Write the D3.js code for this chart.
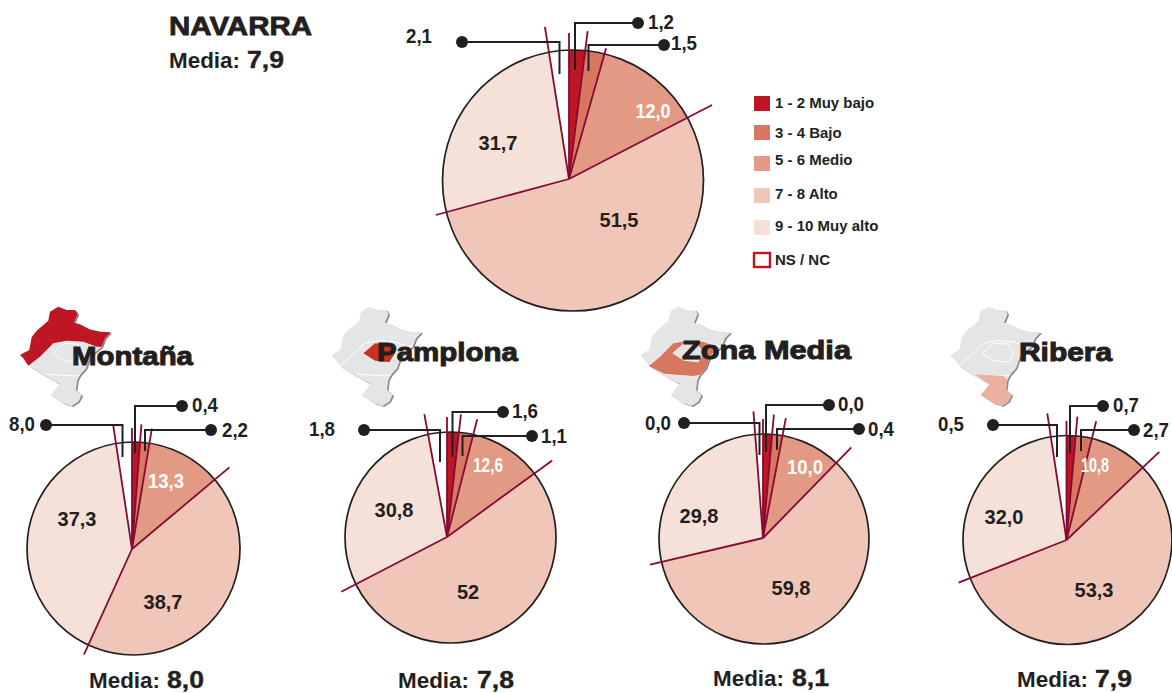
<!DOCTYPE html>
<html><head><meta charset="utf-8">
<script src="https://cdnjs.cloudflare.com/ajax/libs/d3/7.8.5/d3.min.js"></script>
<style>html,body{margin:0;padding:0;background:#fff}svg{display:block}
text{font-family:"Liberation Sans",Arial,sans-serif;font-weight:700;fill:#231f20}</style>
</head><body><svg id="c" width="1172" height="693"></svg>
<script>
// categories
const categories = ["1 - 2 Muy bajo","3 - 4 Bajo","5 - 6 Medio","7 - 8 Alto","9 - 10 Muy alto","NS / NC"];
// printed labels, in category order
const navarraLabels = ["1,2","1,5","12,0","51,5","31,7","2,1"];
const montanaLabels = ["0,4","2,2","13,3","38,7","37,3","8,0"];
const pamplonaLabels = ["1,6","1,1","12,6","52","30,8","1,8"];
const zonaLabels = ["0,0","0,4","10,0","59,8","29,8","0,0"];
const riberaLabels = ["0,7","2,7","10,8","53,3","32,0","0,5"];
// slice shares as drawn in the picture (%)
const navarraShares = [2.0,2.4,13.0,53.4,26.7,2.5];
const montanaShares = [1.2,1.4,11.3,42.9,40.8,2.4];
const pamplonaShares = [1.8,2.2,11.0,52.4,29.7,2.9];
const zonaShares = [1.4,1.6,9.3,59.0,27.5,1.2];
const riberaShares = [1.4,2.5,9.0,56.1,28.6,2.4];
// colours
const colors = ["#be1622","#d8775f","#e29a84","#efc6b8","#f5e1d7","#ffffff"];
const rayColor = "#860a33", inkColor = "#231f20";

// layout (separate from data): hub = where rays meet, circle = disc centre
const pies = [
 {name:"NAVARRA",labels:navarraLabels,shares:navarraShares,cx:569,cy:179,ox:573,oy:180.5,r:130.5,
  rays:[149,136,161,138,154,146],
  lead:[[638,23,575,70,648,22],[664,45,588.5,71,671,43],[462,42,559.5,74,406,36]],
  inner:[[653,111],[619,220],[498,143]],whiteW:35},
 {name:"Montaña",labels:montanaLabels,shares:montanaShares,cx:132,cy:549,ox:133.5,oy:548.5,r:106.5,
  rays:[125,122,127,116,125.4,121],
  lead:[[182,406,135,453,192,405],[211,430,145,451,222,430],[46,425,122.5,457,9,424]],
  inner:[[166,481],[163,602],[77,519]],whiteW:36,
  region:0,mapX:0,title:[72,365,121],mean:"8,0",mx:89,vx:167,my:688},
 {name:"Pamplona",labels:pamplonaLabels,shares:pamplonaShares,cx:447,cy:537,ox:450.5,oy:537.5,r:105.5,
  rays:[123.5,121.5,130,119,125,120],
  lead:[[503,412,452.5,457,512,411],[532,436,462.5,456,541,436],[364,430,440,462,309,429]],
  inner:[[488,465],[468,592],[394,510]],whiteW:30,
  region:1,mapX:311,title:[377,361,141],mean:"7,8",mx:398,vx:477,my:688},
 {name:"Zona Media",labels:zonaLabels,shares:zonaShares,cx:763,cy:538,ox:764,oy:539,r:105,
  rays:[124,122,126.5,116,127,119],
  lead:[[829,405,766,452,838,404],[859,429,777,450,868,429],[684,423,759.5,455,645,423]],
  inner:[[805,467],[791,588],[699,516]],whiteW:36,
  region:2,mapX:620,title:[682,359,169],mean:"8,1",mx:713,vx:792,my:686},
 {name:"Ribera",labels:riberaLabels,shares:riberaShares,cx:1066.5,cy:540,ox:1067.5,oy:540,r:104.5,
  rays:[124,122.4,128,116,128,119],
  lead:[[1103,406,1070,453,1113,405],[1134,430,1081,451,1143,430],[993,425,1057,457,938,424]],
  inner:[[1095,465],[1094,590],[1004,517]],whiteW:28,
  region:3,mapX:930,title:[1019,361,93],mean:"7,9",mx:1017,vx:1095,my:687}
];

const svg = d3.select("#c");
const pie = d3.pie().sort(null).value(d=>d);

// locator map geometry
const outline = [[175,20],[200,30],[225,30],[233,42],[222,68],[240,73],[268,88],[300,95],[332,97],[315,115],[305,140],[270,170],[258,205],[240,225],[232,240],[228,270],[245,285],[235,305],[215,318],[190,310],[152,285],[165,270],[180,250],[168,247],[130,225],[90,200],[70,175],[60,165],[88,150],[95,112],[110,92],[145,62],[150,35]];
const northEdge = [[85,197],[120,170],[160,130],[200,122],[250,125],[290,140],[305,140]];
const basin = [[157,160],[192,130],[232,132],[252,160],[235,187],[192,182]];
const south = [[135,222],[220,228],[232,240],[228,270],[245,285],[235,305],[215,318],[190,310],[152,285],[165,270],[180,250],[168,247]];
const montana = northEdge.concat(outline.slice(0,10).reverse(), outline.slice(26).reverse());
const media = [[86,198],[120,170],[160,130],[200,122],[250,125],[290,140],[270,170],[258,205],[240,225],[220,228],[135,222]];
const regionShapes = [
 {rings:[montana],fill:"#be1622"},
 {rings:[basin],fill:"#c8301f"},
 {rings:[media,basin],fill:"#d8775f"},
 {rings:[south],fill:"#eab19e"}
];
const mapLine = d3.line().curve(d3.curveLinearClosed).x(d=>d[0]/3).y(d=>d[1]/3+300);
const openLine = d3.line().curve(d3.curveLinear).x(d=>d[0]/3).y(d=>d[1]/3+300);

pies.forEach((p,pi)=>{
  const g = svg.append("g");
  if(p.region!==undefined){
    const m = g.append("g").attr("transform",`translate(${p.mapX},0)`);
    m.append("path").attr("d",mapLine(outline)).attr("fill","#8a8a8a").attr("transform","translate(1.5,1)");
    m.append("path").attr("d",mapLine(outline)).attr("fill","#e4e5e6");
    m.append("path").attr("d",openLine(northEdge)).attr("fill","none").attr("stroke","#fff").attr("stroke-width",1);
    m.append("path").attr("d",mapLine(basin)).attr("fill","none").attr("stroke","#fff").attr("stroke-width",1);
    m.append("path").attr("d",openLine(media.slice(8))).attr("fill","none").attr("stroke","#fff").attr("stroke-width",1);
    const s = regionShapes[p.region];
    m.append("path").attr("d",s.rings.map(mapLine).join("")).attr("fill",s.fill).attr("fill-rule","evenodd");
    const [tx,ty,tw] = p.title;
    g.append("text").attr("x",tx).attr("y",ty).attr("font-size",26).attr("textLength",tw)
      .attr("lengthAdjust","spacingAndGlyphs").attr("stroke",inkColor).attr("stroke-width",1).text(p.name);
    g.append("text").attr("x",p.mx).attr("y",p.my).attr("font-size",22).attr("textLength",71).attr("lengthAdjust","spacingAndGlyphs").text("Media:");
    g.append("text").attr("x",p.vx).attr("y",p.my).attr("font-size",24).attr("textLength",37)
      .attr("lengthAdjust","spacingAndGlyphs").attr("stroke",inkColor).attr("stroke-width",.4).text(p.mean);
  }
  const clipId = "disc"+pi;
  svg.append("clipPath").attr("id",clipId).append("circle").attr("cx",p.ox).attr("cy",p.oy).attr("r",p.r);
  const clipped = g.append("g").attr("clip-path",`url(#${clipId})`);
  const c = clipped.append("g").attr("transform",`translate(${p.cx},${p.cy})`);
  const arcs = pie(p.shares);
  const arc = d3.arc().innerRadius(0).outerRadius(p.r+12);
  c.selectAll("path.s").data(arcs).join("path").attr("class","s").attr("d",arc).attr("fill",(d,i)=>colors[i]);
  g.append("circle").attr("cx",p.ox).attr("cy",p.oy).attr("r",p.r).attr("fill","none").attr("stroke",inkColor).attr("stroke-width",1.7);
  const h = g.append("g").attr("transform",`translate(${p.cx},${p.cy})`);
  h.selectAll("line.ray").data(arcs).join("line").attr("class","ray")
    .attr("x2",(d,i)=>Math.sin(d.endAngle)*p.rays[i]).attr("y2",(d,i)=>-Math.cos(d.endAngle)*p.rays[i])
    .attr("stroke",rayColor).attr("stroke-width",1.8);
  [0,1,5].forEach((idx,k)=>{
    const [dx,dy,ex,ey,lx,ly] = p.lead[k];
    g.append("path").attr("d",`M${dx},${dy}H${ex}V${ey}`).attr("fill","none").attr("stroke",inkColor).attr("stroke-width",2);
    g.append("circle").attr("cx",dx).attr("cy",dy).attr("r",6).attr("fill",inkColor);
    g.append("text").attr("x",lx).attr("y",ly).attr("dy","0.36em").attr("font-size",20)
      .attr("textLength",26).attr("lengthAdjust","spacingAndGlyphs").text(p.labels[idx]);
  });
  [2,3,4].forEach((idx,k)=>{
    const [x,y] = p.inner[k];
    const t = g.append("text").attr("x",x).attr("y",y).attr("dy","0.36em").attr("text-anchor","middle")
      .attr("font-size",20).text(p.labels[idx]);
    if(idx===2) t.style("fill","#fff").attr("textLength",p.whiteW).attr("lengthAdjust","spacingAndGlyphs");
  });
});

// header
svg.append("text").attr("x",169).attr("y",35).attr("font-size",26).attr("textLength",143)
  .attr("lengthAdjust","spacingAndGlyphs").attr("stroke",inkColor).attr("stroke-width",.8).text("NAVARRA");
svg.append("text").attr("x",169).attr("y",68).attr("font-size",22).attr("textLength",71).attr("lengthAdjust","spacingAndGlyphs").text("Media:");
svg.append("text").attr("x",247).attr("y",68).attr("font-size",24).attr("textLength",37)
  .attr("lengthAdjust","spacingAndGlyphs").attr("stroke",inkColor).attr("stroke-width",.4).text("7,9");

// legend
const legendY = d3.scaleOrdinal().domain(categories).range([96,125,156,188,220,253]);
const legendText = [108,138,165,199,231,265];
categories.forEach((c,i)=>{
  const y = legendY(c), last = i===categories.length-1;
  svg.append("rect").attr("x",754).attr("y",y).attr("width",16).attr("height",last?14:15)
    .attr("fill",last?"#fff":colors[i]).attr("stroke",last?"#be1622":"none").attr("stroke-width",last?2.4:0);
  svg.append("text").attr("x",775).attr("y",legendText[i]).attr("font-size",15).text(c);
});
</script></body></html>
